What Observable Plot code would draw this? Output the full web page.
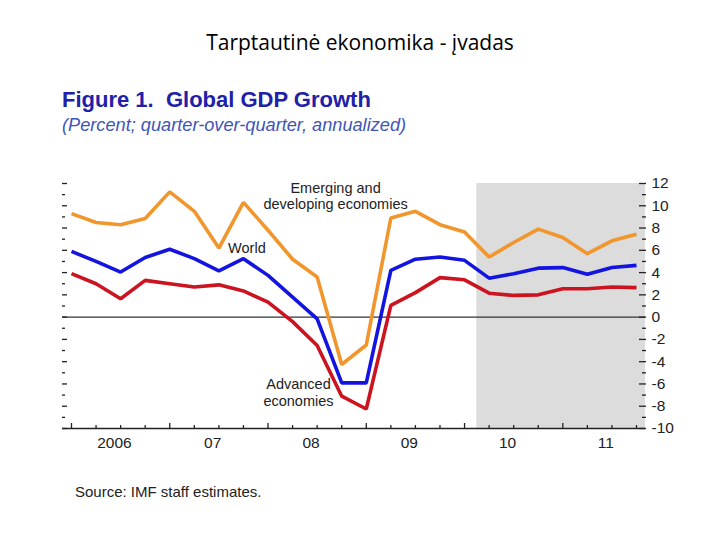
<!DOCTYPE html>
<html>
<head>
<meta charset="utf-8">
<script src="https://cdn.jsdelivr.net/npm/d3@7"></script>
<script src="https://cdn.jsdelivr.net/npm/@observablehq/plot@0.6"></script>
<style>
  html, body { margin: 0; padding: 0; background: #fff; }
  #wrap { position: relative; width: 720px; height: 540px; overflow: hidden; }
  #chart { position: absolute; left: 0; top: 0; }
  .slide-title { position: absolute; left: 0; top: 29px; width: 720px; text-align: center;
    font-family: "Open Sans", Lato, sans-serif; font-size: 21px; line-height: 26px; color: #000; }
  .fig-title { position: absolute; left: 62px; top: 89px; font-family: "Liberation Sans", Arial, sans-serif;
    font-weight: bold; font-size: 22px; line-height: 22px; color: #2020a8; white-space: pre; }
  .fig-sub { position: absolute; left: 62px; top: 115px; font-family: "Liberation Sans", Arial, sans-serif;
    font-style: italic; font-size: 18.2px; line-height: 20px; color: #3f55b8; white-space: pre; }
  .source { position: absolute; left: 75px; top: 483px; font-family: "Liberation Sans", Arial, sans-serif;
    font-size: 15px; line-height: 18px; color: #222; }
</style>
</head>
<body>
<div id="wrap">
  <div id="chart"></div>
  <div class="slide-title">Tarptautinė ekonomika - įvadas</div>
  <div class="fig-title">Figure 1.  Global GDP Growth</div>
  <div class="fig-sub">(Percent; quarter-over-quarter, annualized)</div>
  <div class="source">Source: IMF staff estimates.</div>
</div>
<script>
// Quarters 2006Q1 .. 2011Q4
const quarters = ["2006Q1","2006Q2","2006Q3","2006Q4","2007Q1","2007Q2","2007Q3","2007Q4",
  "2008Q1","2008Q2","2008Q3","2008Q4","2009Q1","2009Q2","2009Q3","2009Q4",
  "2010Q1","2010Q2","2010Q3","2010Q4","2011Q1","2011Q2","2011Q3","2011Q4"];

// Emerging and developing economies
const emerging = [9.3, 8.5, 8.3, 8.85, 11.25, 9.5, 6.2, 10.3, 7.8, 5.2, 3.6, -4.25,
  -2.5, 8.9, 9.5, 8.3, 7.65, 5.4, 6.7, 7.9, 7.15, 5.7, 6.85, 7.45];
// World
const world = [5.9, 5.0, 4.05, 5.35, 6.1, 5.25, 4.15, 5.25, 3.75, 1.8, -0.15, -5.9,
  -5.9, 4.2, 5.2, 5.4, 5.1, 3.5, 3.9, 4.4, 4.45, 3.85, 4.45, 4.65];
// Advanced economies
const advanced = [3.9, 3.0, 1.65, 3.3, 3.0, 2.7, 2.9, 2.35, 1.35, -0.4, -2.55, -7.1,
  -8.25, 1.05, 2.2, 3.55, 3.35, 2.15, 1.95, 2.0, 2.55, 2.55, 2.7, 2.65];

// Year tick labels
const yearLabels = ["2006", "07", "08", "09", "10", "11"];
const yTicksMajor = [-10, -8, -6, -4, -2, 0, 2, 4, 6, 8, 10, 12];
const yTicksMinor = [-9, -7, -5, -3, -1, 1, 3, 5, 7, 9, 11];
// Projection (shaded) period begins between 2010Q1 and 2010Q2
const shadeStartQuarter = ["2010Q1", "2010Q2"];

const seriesNames = ["Emerging and developing economies", "World", "Advanced economies"];
const seriesColors = ["#f0962c", "#1414e0", "#cc1420"];

// ---- build ----
const qi = q => quarters.indexOf(q);
const rows = [];
[emerging, world, advanced].forEach((vals, s) => {
  vals.forEach((v, i) => rows.push({ i, v, s: seriesNames[s] }));
});
const xDomain = [-0.366, quarters.length - 1 + 0.366];
const shade = [{ x1: (qi(shadeStartQuarter[0]) + qi(shadeStartQuarter[1])) / 2, x2: xDomain[1] }];
const allIdx = quarters.map((q, i) => i);
const yearStarts = allIdx.filter(i => quarters[i].endsWith("Q1"));
const otherQ = allIdx.filter(i => !quarters[i].endsWith("Q1"));
const labelPos = yearStarts.map(i => i + 1.75);

// Series labels (centred)
const annotations = [
  { x: 10.75, y: 10.9, text: "Emerging and\ndeveloping economies" },
  { x: 7.14, y: 6.27, text: "World" },
  { x: 9.24, y: -6.75, text: "Advanced\neconomies" }
];

const font = "'Liberation Sans', Arial, sans-serif";
const blank = () => "";
const tickStyle = { stroke: "#222", strokeWidth: 1.3 };

const chart = Plot.plot({
  width: 720,
  height: 540,
  marginTop: 183,
  marginBottom: 112,
  marginLeft: 62,
  marginRight: 75,
  style: { fontFamily: font, background: "transparent", color: "#222" },
  x: { domain: xDomain, axis: null },
  y: { domain: [-10, 12], axis: null },
  color: { domain: seriesNames, range: seriesColors },
  marks: [
    Plot.rect(shade, { x1: "x1", x2: "x2", y1: -10, y2: 12, fill: "#dcdcdc" }),
    Plot.ruleY([0], { stroke: "#333", strokeWidth: 1.3 }),
    Plot.line(rows, { x: "i", y: "v", z: "s", stroke: "s", strokeWidth: 3.6, strokeLinejoin: "miter", strokeLinecap: "butt" }),
    Plot.ruleY([-10], { stroke: "#222", strokeWidth: 1.5 }),
    // right axis
    Plot.axisY({ anchor: "right", ticks: yTicksMajor, tickSize: -7, tickFormat: blank, ...tickStyle }),
    Plot.axisY({ anchor: "right", ticks: yTicksMinor, tickSize: -4, tickFormat: blank, ...tickStyle }),
    Plot.axisY({ anchor: "right", ticks: yTicksMajor, tickSize: 0, tickPadding: 6, fontSize: 15.5, fill: "#222",
      tickFormat: d => d < 0 ? "-" + Math.abs(d) : String(d) }),
    // left axis ticks
    Plot.axisY({ anchor: "left", ticks: yTicksMajor, tickSize: -5, tickFormat: blank, ...tickStyle }),
    Plot.axisY({ anchor: "left", ticks: yTicksMinor, tickSize: -3, tickFormat: blank, ...tickStyle }),
    // bottom axis
    Plot.axisX({ anchor: "bottom", ticks: yearStarts, tickSize: -5, tickFormat: blank, ...tickStyle }),
    Plot.axisX({ anchor: "bottom", ticks: otherQ, tickSize: -3, tickFormat: blank, ...tickStyle }),
    Plot.axisX({ anchor: "bottom", ticks: labelPos, tickSize: 0, tickPadding: 8, fontSize: 15.5, fill: "#222",
      tickFormat: (d, i) => yearLabels[i] }),
    Plot.text(annotations, { x: "x", y: "y", text: "text", textAnchor: "middle", fontSize: 14.5, fill: "#222", lineHeight: 1.15 })
  ]
});
document.getElementById("chart").appendChild(chart);
</script>
</body>
</html>
